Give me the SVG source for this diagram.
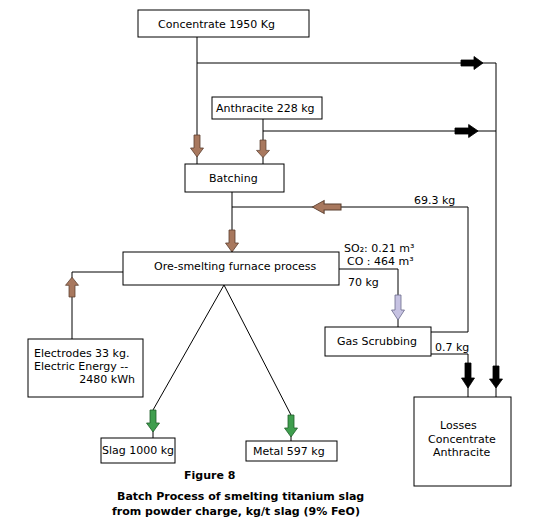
<svg xmlns="http://www.w3.org/2000/svg" width="549" height="521" viewBox="0 0 549 521">
<style>
.box{fill:#fff;stroke:#000;stroke-width:1}
.ln{fill:none;stroke:#000;stroke-width:1}
.t{font-family:"DejaVu Sans",Verdana,sans-serif;font-size:11px;fill:#000}
.cap{font-family:"DejaVu Sans",Verdana,sans-serif;font-size:11px;font-weight:bold;fill:#000}
.brown{fill:#a8785e;stroke:#5a3e2e;stroke-width:0.8}
.green{fill:#3f9e4e;stroke:#1f5e2a;stroke-width:0.8}
.lav{fill:#c6c2e2;stroke:#6a6a8a;stroke-width:0.8}
.blk{fill:#000;stroke:#000;stroke-width:0.8}
</style>
<defs>
<path id="ad" d="M-3,0 H3 V13 H6.5 L0,22 L-6.5,13 H-3 Z"/>
<path id="ad25" d="M-3,0 H3 V15 H6.5 L0,25 L-6.5,15 H-3 Z"/>
</defs>
<rect width="549" height="521" fill="#fff"/>
<g id="connectors">
<polyline class="ln" points="197,37 197,164"/>
<polyline class="ln" points="197,63 496,63 496,397"/>
<polyline class="ln" points="263,119 263,164"/>
<polyline class="ln" points="263,131 496,131"/>
<polyline class="ln" points="232,192 232,252"/>
<polyline class="ln" points="232,207 468,207 468,332 431,332"/>
<polyline class="ln" points="339,269 398,269 398,327"/>
<polyline class="ln" points="431,354 468,354 468,397"/>
<polyline class="ln" points="72,339 72,272 123,272"/>
<polyline class="ln" points="153,410 224,285 291,415"/>
<line class="ln" x1="153" y1="410" x2="153" y2="438"/>
<line class="ln" x1="291" y1="415" x2="291" y2="441"/>
<use href="#ad" class="brown" transform="translate(197,135)"/>
<use href="#ad" class="brown" transform="translate(263,140) scale(1,0.8)"/>
<use href="#ad" class="brown" transform="translate(232,230)"/>
<use href="#ad" class="brown" transform="translate(341,207) rotate(90) scale(1,1.3)"/>
<use href="#ad" class="brown" transform="translate(72,297) rotate(180) scale(1,0.9)"/>
<use href="#ad25" class="lav" transform="translate(398,295)"/>
<use href="#ad" class="blk" transform="translate(461,63) rotate(-90)"/>
<use href="#ad" class="blk" transform="translate(455,131) rotate(-90) scale(1,1.05)"/>
<use href="#ad25" class="blk" transform="translate(468,363)"/>
<use href="#ad" class="blk" transform="translate(496,366)"/>
<use href="#ad" class="green" transform="translate(153,410)"/>
<use href="#ad" class="green" transform="translate(291,415)"/>
</g>
<g id="concentrate">
<rect class="box" x="138" y="10" width="171" height="27"/>
<text class="t" x="158" y="28">Concentrate 1950 Kg</text>
</g>
<g id="anthracite">
<rect class="box" x="212" y="97" width="110" height="22"/>
<text class="t" x="216" y="112">Anthracite 228 kg</text>
</g>
<g id="batching">
<rect class="box" x="185" y="164" width="99" height="28"/>
<text class="t" x="209" y="182">Batching</text>
</g>
<g id="recycle-label">
<text class="t" x="414" y="204">69.3 kg</text>
</g>
<g id="furnace">
<rect class="box" x="123" y="252" width="216" height="33"/>
<text class="t" x="154" y="270">Ore-smelting furnace process</text>
</g>
<g id="gas-labels">
<text class="t" x="344" y="252">SO₂: 0.21 m³</text>
<text class="t" x="347" y="265">CO : 464 m³</text>
<text class="t" x="348" y="286">70 kg</text>
</g>
<g id="gas-scrubbing">
<rect class="box" x="325" y="327" width="106" height="29"/>
<text class="t" x="337" y="345">Gas Scrubbing</text>
<text class="t" x="435" y="351">0.7 kg</text>
</g>
<g id="losses">
<rect class="box" x="414" y="397" width="97" height="89"/>
<text class="t" x="440" y="429">Losses</text>
<text class="t" x="428" y="443">Concentrate</text>
<text class="t" x="433" y="456">Anthracite</text>
</g>
<g id="electrodes">
<rect class="box" x="28" y="339" width="115" height="58"/>
<text class="t" x="34" y="357">Electrodes 33 kg.</text>
<text class="t" x="34" y="370">Electric Energy --</text>
<text class="t" x="135" y="383" text-anchor="end">2480 kWh</text>
</g>
<g id="slag">
<rect class="box" x="101" y="438" width="74" height="25"/>
<text class="t" x="102" y="454">Slag 1000 kg</text>
</g>
<g id="metal">
<rect class="box" x="246" y="441" width="91" height="20"/>
<text class="t" x="253" y="455">Metal 597 kg</text>
</g>
<g id="caption">
<text class="cap" x="184" y="479">Figure 8</text>
<text class="cap" x="117" y="500">Batch Process of smelting titanium slag</text>
<text class="cap" x="112" y="515">from powder charge, kg/t slag (9% FeO)</text>
</g>
</svg>
